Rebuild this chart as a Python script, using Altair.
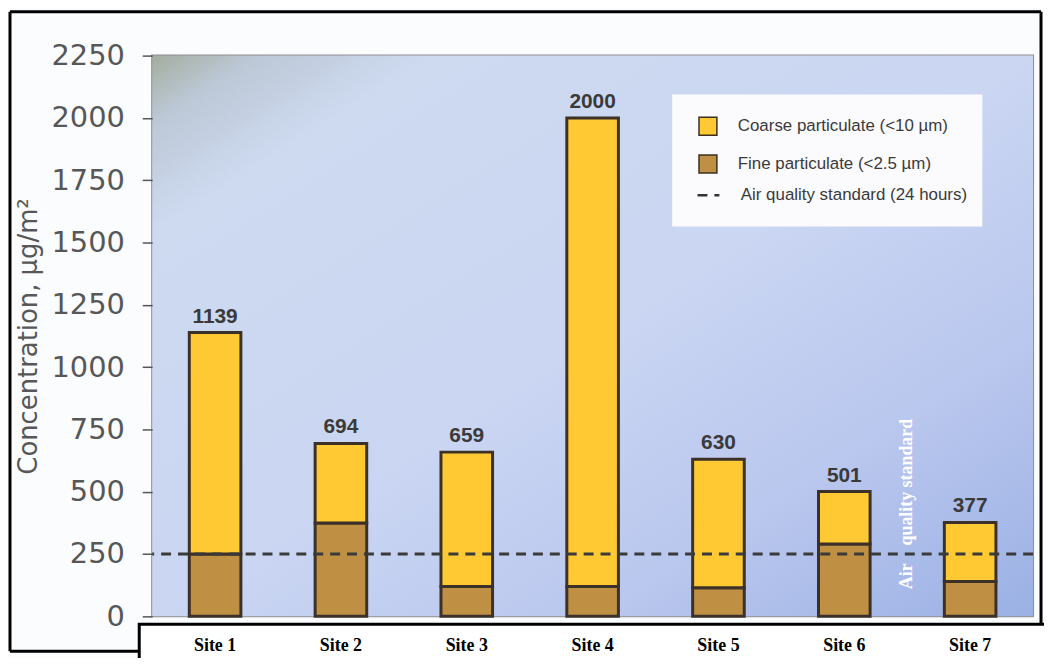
import altair as alt
import pandas as pd

# ---- data ----
sites = ["Site 1", "Site 2", "Site 3", "Site 4", "Site 5", "Site 6", "Site 7"]
totals = [1139, 694, 659, 2000, 630, 501, 377]
fine = [250, 375, 120, 120, 115, 290, 140]
coarse = [t - f for t, f in zip(totals, fine)]
standard_value = 250
y_ticks = [0, 250, 500, 750, 1000, 1250, 1500, 1750, 2000, 2250]

COARSE = "Coarse particulate (<10 µm)"
FINE = "Fine particulate (<2.5 µm)"
STD = "Air quality standard (24 hours)"

rows = []
for s, f, c in zip(sites, fine, coarse):
    rows.append({"site": s, "type": FINE, "value": f, "ord": 0})
    rows.append({"site": s, "type": COARSE, "value": c, "ord": 1})
bars_df = pd.DataFrame(rows)
tot_df = pd.DataFrame({"site": sites, "total": totals})
std_df = pd.DataFrame({"name": [STD], "value": [standard_value]})

W, H = 886, 564
one = alt.InlineData(values=[{"k": 1}])

xscale = alt.Scale(domain=sites, paddingInner=0.59, paddingOuter=0.295)
yscale = alt.Scale(domain=[0, 2250], nice=False)

x_enc = alt.X(
    "site:N", sort=sites, scale=xscale, title=None,
    axis=alt.Axis(labelAngle=0, labelFont="Liberation Serif", labelFontWeight="bold",
                  labelFontSize=18, labelColor="#000000", labelPadding=20,
                  ticks=False, domain=False, grid=False, zindex=2),
)

# plot background gradient
bg = alt.Chart(one).mark_rect(
    fill=alt.Gradient(
        gradient="linear", x1=0, y1=0, x2=1, y2=1,
        stops=[
            alt.GradientStop(color="#a4ad9f", offset=0),
            alt.GradientStop(color="#bcc8d6", offset=0.06),
            alt.GradientStop(color="#cedaf0", offset=0.16),
            alt.GradientStop(color="#cad6f2", offset=0.5),
            alt.GradientStop(color="#bac7ee", offset=0.75),
            alt.GradientStop(color="#9bb1e4", offset=1),
        ],
    )
).encode(x=alt.value(0), x2=alt.value(W), y=alt.value(0), y2=alt.value(H))

# legend box
legend_box = alt.Chart(one).mark_rect(fill="#fbfbfd").encode(
    x=alt.value(523), x2=alt.value(835), y=alt.value(39), y2=alt.value(172)
)

bars = alt.Chart(bars_df).mark_bar(stroke="#3b3129", strokeWidth=3).encode(
    x=x_enc,
    y=alt.Y("value:Q", stack="zero", scale=yscale,
            title="Concentration, µg/m²",
            axis=alt.Axis(values=y_ticks, format="d", labelFont="DejaVu Sans",
                          labelFontSize=29, labelColor="#575757", tickSize=10,
                          tickColor="#555555", tickWidth=1.5, labelPadding=18,
                          domain=False, grid=False,
                          titleFont="DejaVu Sans", titleFontSize=26,
                          titleFontWeight="normal", titleColor="#575757",
                          titleX=-124, titleY=H / 2, titleAngle=270,
                          titleAlign="center", titleBaseline="middle", zindex=2)),
    color=alt.Color(
        "type:N",
        scale=alt.Scale(domain=[COARSE, FINE], range=["#ffc933", "#bf8f44"]),
        legend=alt.Legend(orient="none", legendX=549, legendY=61, title=None,
                          symbolType="square", symbolSize=324,
                          symbolStrokeColor="#3a3020", symbolStrokeWidth=1.5,
                          labelFont="Liberation Sans", labelFontSize=17,
                          labelColor="#3a3a3a", labelOffset=20, rowPadding=14,
                          labelLimit=400, padding=0),
    ),
    order=alt.Order("ord:Q"),
)

std_rule = alt.Chart(std_df).mark_rule(color="#3a3a3a", strokeWidth=3).encode(
    y=alt.Y("value:Q", scale=yscale),
    strokeDash=alt.StrokeDash(
        "name:N", scale=alt.Scale(domain=[STD], range=[[10, 7]]),
        legend=alt.Legend(orient="none", legendX=547, legendY=128, title=None,
                          symbolType="stroke", symbolSize=484,
                          symbolStrokeColor="#333333", symbolStrokeWidth=2.5,
                          labelFont="Liberation Sans", labelFontSize=17,
                          labelColor="#3a3a3a", labelOffset=20,
                          labelLimit=400, padding=0),
    ),
)

labels = alt.Chart(tot_df).mark_text(
    font="Liberation Sans", fontWeight="bold", fontSize=21, color="#3a3a3a",
    baseline="alphabetic", dy=-10,
).encode(x=alt.X("site:N", sort=sites, scale=xscale), y=alt.Y("total:Q", scale=yscale),
         text=alt.Text("total:Q"))

annot = alt.Chart(one).mark_text(
    text="Air\u00a0\u00a0\u00a0\u00a0quality standard", angle=270, font="Liberation Serif",
    fontWeight="bold", fontSize=18, color="#ffffff", align="center", baseline="middle",
).encode(x=alt.value(759), y=alt.value(451))

# page frame and the label box beneath the plot
def seg(x, x2, y, y2):
    return alt.Chart(one).mark_rule(color="#000000", strokeWidth=3).encode(
        x=alt.value(x), x2=alt.value(x2), y=alt.value(y), y2=alt.value(y2))

frame = [
    seg(-143, 894, -44, -44),
    seg(-143, -143, -44, 599),
    seg(-143, -13, 599, 599),
    seg(894, 894, -44, 572),
]
label_box = alt.Chart(one).mark_rect(fill="#ffffff", stroke="#000000", strokeWidth=3).encode(
    x=alt.value(-13), x2=alt.value(905), y=alt.value(572), y2=alt.value(700))

chart = alt.layer(
    bg, legend_box, label_box, bars, std_rule, labels, annot, *frame
).properties(
    width=W, height=H,
    padding={"left": 145, "top": 46, "right": 11, "bottom": 40},
    autosize=alt.AutoSizeParams(type="none"),
).configure(
    background="#fbfcfe",
).configure_view(
    stroke="#8e8e8e", strokeWidth=2,
)

chart.save("out.html", embed_options={"renderer": "svg", "actions": False})
